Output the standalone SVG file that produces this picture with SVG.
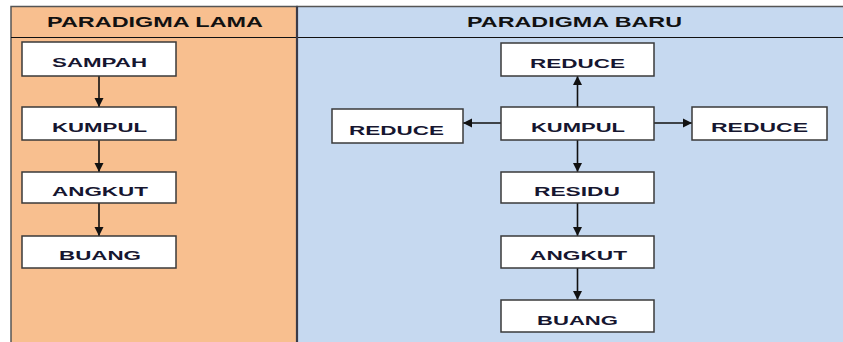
<svg xmlns="http://www.w3.org/2000/svg" width="843" height="342" viewBox="0 0 843 342">
<defs>
<style>
.box{fill:#ffffff;stroke:#3a3a3a;stroke-width:1.5}
.lbl{font-family:"Liberation Sans",Arial,sans-serif;font-weight:bold;font-size:13px;fill:#161630;text-anchor:middle}
.hdr{font-family:"Liberation Sans",Arial,sans-serif;font-weight:bold;font-size:14px;fill:#111111;text-anchor:middle}
.con{stroke:#111111;stroke-width:1.6;fill:none;marker-end:url(#ah)}
</style>
<marker id="ah" markerUnits="userSpaceOnUse" markerWidth="10" markerHeight="10" viewBox="0 0 10 10" refX="9" refY="5" orient="auto">
<path d="M0,0.5 L9,5 L0,9.5 Z" fill="#111111"/>
</marker>
</defs>
<rect x="0" y="0" width="843" height="342" fill="#ffffff"/>
<g id="panel-lama">
<rect x="11" y="6.5" width="286" height="340" fill="#F8BF8F" stroke="#555555" stroke-width="1.5"/>
<line x1="11" y1="37.5" x2="297" y2="37.5" stroke="#111111" stroke-width="1.2"/>
<text class="hdr" x="155" y="27" textLength="216" lengthAdjust="spacingAndGlyphs">PARADIGMA LAMA</text>
</g>
<g id="panel-baru">
<rect x="297" y="6.5" width="550" height="340" fill="#C6D9F0" stroke="#555555" stroke-width="1.5"/>
<line x1="297" y1="37.5" x2="843" y2="37.5" stroke="#111111" stroke-width="1.2"/>
<text class="hdr" x="574.5" y="27" textLength="215" lengthAdjust="spacingAndGlyphs">PARADIGMA BARU</text>
</g>
<line x1="297" y1="6.5" x2="297" y2="342" stroke="#3a3a48" stroke-width="2.2"/>
<g id="connectors">
<line class="con" x1="99" y1="76" x2="99" y2="107"/>
<line class="con" x1="99" y1="140" x2="99" y2="172"/>
<line class="con" x1="99" y1="203" x2="99" y2="236"/>
<line class="con" x1="577.5" y1="107" x2="577.5" y2="76"/>
<line class="con" x1="501" y1="123" x2="463" y2="123"/>
<line class="con" x1="654" y1="123" x2="692" y2="123"/>
<line class="con" x1="577.5" y1="140" x2="577.5" y2="172"/>
<line class="con" x1="577.5" y1="203" x2="577.5" y2="236"/>
<line class="con" x1="577.5" y1="268" x2="577.5" y2="300"/>
</g>
<g id="l-sampah">
<rect class="box" x="22" y="42" width="154" height="34"/>
<text class="lbl" x="99.5" y="67" textLength="95" lengthAdjust="spacingAndGlyphs">SAMPAH</text>
</g>
<g id="l-kumpul">
<rect class="box" x="22" y="107" width="154" height="33"/>
<text class="lbl" x="99.5" y="132" textLength="95" lengthAdjust="spacingAndGlyphs">KUMPUL</text>
</g>
<g id="l-angkut">
<rect class="box" x="22" y="172" width="154" height="31"/>
<text class="lbl" x="100" y="196" textLength="96" lengthAdjust="spacingAndGlyphs">ANGKUT</text>
</g>
<g id="l-buang">
<rect class="box" x="22" y="236" width="154" height="32"/>
<text class="lbl" x="100" y="260" textLength="82" lengthAdjust="spacingAndGlyphs">BUANG</text>
</g>
<g id="r-reduce-top">
<rect class="box" x="501" y="43" width="153" height="33"/>
<text class="lbl" x="577.5" y="67.5" textLength="95" lengthAdjust="spacingAndGlyphs">REDUCE</text>
</g>
<g id="r-reduce-left">
<rect class="box" x="332" y="109" width="131" height="34"/>
<text class="lbl" x="396.5" y="135" textLength="95" lengthAdjust="spacingAndGlyphs">REDUCE</text>
</g>
<g id="r-kumpul">
<rect class="box" x="501" y="107" width="153" height="33"/>
<text class="lbl" x="578" y="132" textLength="94" lengthAdjust="spacingAndGlyphs">KUMPUL</text>
</g>
<g id="r-reduce-right">
<rect class="box" x="692" y="107" width="135" height="33"/>
<text class="lbl" x="759.5" y="132" textLength="97" lengthAdjust="spacingAndGlyphs">REDUCE</text>
</g>
<g id="r-residu">
<rect class="box" x="501" y="172" width="153" height="31"/>
<text class="lbl" x="577" y="196" textLength="86" lengthAdjust="spacingAndGlyphs">RESIDU</text>
</g>
<g id="r-angkut">
<rect class="box" x="501" y="236" width="153" height="32"/>
<text class="lbl" x="578.5" y="260" textLength="97" lengthAdjust="spacingAndGlyphs">ANGKUT</text>
</g>
<g id="r-buang">
<rect class="box" x="501" y="300" width="153" height="32"/>
<text class="lbl" x="577.5" y="325" textLength="81" lengthAdjust="spacingAndGlyphs">BUANG</text>
</g>
</svg>
